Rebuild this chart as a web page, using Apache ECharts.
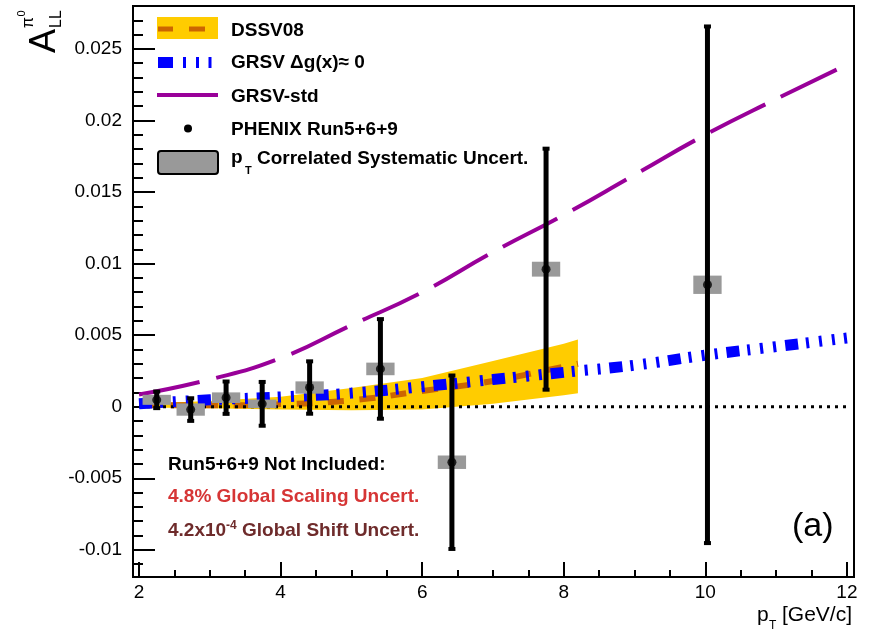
<!DOCTYPE html>
<html><head><meta charset="utf-8">
<script src="https://cdn.jsdelivr.net/npm/echarts@6/dist/echarts.min.js"></script>
<style>html,body{margin:0;padding:0;background:#fff}#c{width:869px;height:633px}</style>
</head><body><div id="c"></div>
<script>
// ---- data ----
const ptX    = [2.25, 2.73, 3.23, 3.74, 4.41, 5.41, 6.42, 7.75, 10.03];
const allVal = [0.00048, -0.0002, 0.00063, 0.0002, 0.00134, 0.00264, -0.00388, 0.00961, 0.00852];
const statErr= [0.00065, 0.00086, 0.0012, 0.0016, 0.0019, 0.00355, 0.00613, 0.00849, 0.01812];
const sysErr = [0.00035, 0.00043, 0.00037, 0.0003, 0.00043, 0.00044, 0.00047, 0.00052, 0.00064];

const theoryX  = [2, 3, 4, 5, 6, 7, 8, 9, 10, 11, 12];
const grsvStd  = [0.00085, 0.0019, 0.0034, 0.0057, 0.0080, 0.0108, 0.0134, 0.0162, 0.0190, 0.0215, 0.0239];
const grsvZero = [0.0002, 0.00048, 0.00068, 0.00095, 0.0014, 0.0019, 0.0024, 0.0029, 0.0036, 0.0042, 0.0048];

const dssvX  = [2, 3, 4, 5, 6, 7, 8, 8.2];
const dssvC  = [0.0001, 0.0001, 0.00018, 0.00045, 0.0011, 0.0018, 0.0028, 0.003];
const dssvHi = [0.0002, 0.0004, 0.0007, 0.0013, 0.002, 0.0032, 0.0044, 0.0047];
const dssvLo = [-0.00005, -0.0001, -0.0002, -0.00025, -0.0002, 0.0002, 0.0008, 0.00094];

const zeroX = [2, 12];
const zeroY = [0, 0];

const xTickLabels = ['2', '4', '6', '8', '10', '12'];
const yTickLabels = ['-0.01', '-0.005', '0', '0.005', '0.01', '0.015', '0.02', '0.025'];

// ---- chart ----
const FONT = '"Liberation Sans", Arial, Helvetica, sans-serif';
const zip = (xs, ys) => xs.map((x, i) => [x, ys[i]]);
const chart = echarts.init(document.getElementById('c'), null, {renderer: 'canvas'});

function yFmt(v) {
  const k = v / 0.005;
  if (Math.abs(k - Math.round(k)) > 1e-6) return '';
  const s = String(parseFloat((Math.round(k) * 0.005).toFixed(3)));
  return yTickLabels.indexOf(s) >= 0 ? s : '';
}
function xFmt(v) {
  if (Math.abs(v - Math.round(v)) > 1e-6) return '';
  const s = String(Math.round(v));
  return xTickLabels.indexOf(s) >= 0 ? s : '';
}

function txt(text, x, y, font, fill, extra) {
  const e = {type: 'text', x: x, y: y, z: 100, silent: true,
    style: {text: text, font: font, fill: fill || '#000', align: 'left', verticalAlign: 'middle'}};
  if (extra) Object.assign(e, extra);
  if (extra && extra.style) Object.assign(e.style, extra.style);
  return e;
}

const boldF = 'bold 19px ' + FONT;

const graphics = [
  // legend
  {type: 'rect', z: 100, silent: true, shape: {x: 157, y: 17, width: 61, height: 22}, style: {fill: '#ffcc00'}},
  {type: 'rect', z: 101, silent: true, shape: {x: 158, y: 26.5, width: 15, height: 5}, style: {fill: '#cc6600'}},
  {type: 'rect', z: 101, silent: true, shape: {x: 189, y: 26.5, width: 16, height: 5}, style: {fill: '#cc6600'}},
  {type: 'rect', z: 100, silent: true, shape: {x: 158, y: 57, width: 15, height: 11}, style: {fill: '#0000ff'}},
  {type: 'rect', z: 100, silent: true, shape: {x: 183, y: 57, width: 3, height: 11}, style: {fill: '#0000ff'}},
  {type: 'rect', z: 100, silent: true, shape: {x: 196, y: 57, width: 3, height: 11}, style: {fill: '#0000ff'}},
  {type: 'rect', z: 100, silent: true, shape: {x: 208.5, y: 57, width: 3, height: 11}, style: {fill: '#0000ff'}},
  {type: 'line', z: 100, silent: true, shape: {x1: 157, y1: 95, x2: 218, y2: 95}, style: {stroke: '#990099', lineWidth: 4}},
  {type: 'circle', z: 100, silent: true, shape: {cx: 188, cy: 128.5, r: 4}, style: {fill: '#000'}},
  {type: 'rect', z: 100, silent: true, shape: {x: 158, y: 151, width: 60, height: 23, r: 3}, style: {fill: '#999999', stroke: '#000', lineWidth: 2}},
  txt('DSSV08', 231, 31, boldF),
  txt('GRSV \u0394g(x)\u2248 0', 231, 63, boldF),
  txt('GRSV-std', 231, 97, boldF),
  txt('PHENIX Run5+6+9', 231, 130, boldF),
  txt('p', 231, 158, boldF),
  txt('T', 245, 171, 'bold 11px ' + FONT),
  txt('Correlated Systematic Uncert.', 257, 159, boldF),
  // notes
  txt('Run5+6+9 Not Included:', 168, 465, boldF),
  txt('4.8% Global Scaling Uncert.', 168, 497, boldF, '#d63535'),
  txt('4.2x10', 168, 531, boldF, '#6e2b2b'),
  txt('-4', 226, 526, 'bold 12px ' + FONT, '#6e2b2b'),
  txt('Global Shift Uncert.', 242, 531, boldF, '#6e2b2b'),
  txt('(a)', 792, 527, '34px ' + FONT, '#000'),
  // x title
  txt('p', 757, 615, '21px ' + FONT),
  txt('T', 769, 626, '12px ' + FONT),
  txt('[GeV/c]', 782, 615, '21px ' + FONT),
  // y title (rotated)
  {type: 'text', x: 45, y: 41, rotation: Math.PI / 2, z: 100, silent: true,
    style: {text: 'A', font: '36px ' + FONT, fill: '#000', align: 'center', verticalAlign: 'middle'}},
  {type: 'text', x: 57, y: 19, rotation: Math.PI / 2, z: 100, silent: true,
    style: {text: 'LL', font: '16px ' + FONT, fill: '#000', align: 'center', verticalAlign: 'middle'}},
  {type: 'text', x: 29, y: 22.5, rotation: Math.PI / 2, z: 100, silent: true,
    style: {text: '\u03c0', font: '16px ' + FONT, fill: '#000', align: 'center', verticalAlign: 'middle'}},
  {type: 'text', x: 22, y: 13.5, rotation: Math.PI / 2, z: 100, silent: true,
    style: {text: '0', font: '11px ' + FONT, fill: '#000', align: 'center', verticalAlign: 'middle'}}
];

const option = {
  animation: false,
  backgroundColor: '#fff',
  grid: {left: 133, right: 15, top: 6, bottom: 56, show: true, borderColor: '#000', borderWidth: 2,
         backgroundColor: 'transparent', containLabel: false, outerBoundsMode: 'none'},
  xAxis: {
    type: 'value', min: 1.915, max: 12.1, splitNumber: 5,
    axisLine: {show: true, onZero: false, lineStyle: {color: '#000', width: 2}},
    axisTick: {show: true, inside: true, length: 15, lineStyle: {color: '#000', width: 2}},
    minorTick: {show: true, splitNumber: 4, length: 7, lineStyle: {color: '#000', width: 2}},
    splitLine: {show: false}, minorSplitLine: {show: false},
    axisLabel: {formatter: xFmt, color: '#000', fontSize: 19, fontFamily: FONT, margin: 6,
                showMinLabel: true, showMaxLabel: true, hideOverlap: false}
  },
  yAxis: {
    type: 'value', min: -0.0119, max: 0.028, splitNumber: 8,
    axisLine: {show: true, onZero: false, lineStyle: {color: '#000', width: 2}},
    axisTick: {show: true, inside: true, length: 22, lineStyle: {color: '#000', width: 2}},
    minorTick: {show: true, splitNumber: 5, length: 10, lineStyle: {color: '#000', width: 2}},
    splitLine: {show: false}, minorSplitLine: {show: false},
    axisLabel: {formatter: yFmt, color: '#000', fontSize: 19, fontFamily: FONT, margin: 11,
                showMinLabel: true, showMaxLabel: true, hideOverlap: false}
  },
  graphic: graphics,
  series: [
    { // DSSV08 uncertainty band
      type: 'custom', z: 1, silent: true, clip: true,
      data: [[dssvX[0], dssvC[0]]],
      renderItem: function (params, api) {
        const pts = [];
        for (let i = 0; i < dssvX.length; i++) pts.push(api.coord([dssvX[i], dssvHi[i]]));
        for (let i = dssvX.length - 1; i >= 0; i--) pts.push(api.coord([dssvX[i], dssvLo[i]]));
        return {type: 'polygon', shape: {points: pts}, style: {fill: '#ffcc00'}};
      }
    },
    { // DSSV08 central
      type: 'line', z: 2, silent: true, showSymbol: false, smooth: true,
      data: zip(dssvX, dssvC),
      lineStyle: {color: '#cc6600', width: 6, type: [16, 15.5], cap: 'butt'}
    },
    { // zero line
      type: 'line', z: 3, silent: true, showSymbol: false,
      data: zip(zeroX, zeroY),
      lineStyle: {color: '#000', width: 3, type: [3, 5], cap: 'butt'}
    },
    { // GRSV dg=0
      type: 'line', z: 4, silent: true, showSymbol: false, smooth: true,
      data: zip(theoryX, grsvZero),
      lineStyle: {color: '#0000ff', width: 11, type: [13, 8, 3, 10, 3, 10, 3, 9], cap: 'butt'}
    },
    { // GRSV-std
      type: 'line', z: 4, silent: true, showSymbol: false, smooth: true,
      data: zip(theoryX, grsvStd),
      lineStyle: {color: '#990099', width: 4, type: [62, 17], cap: 'butt'}
    },
    { // systematic boxes
      type: 'custom', z: 5, silent: true,
      data: ptX.map((x, i) => [x, allVal[i], sysErr[i]]),
      renderItem: function (params, api) {
        const x = api.value(0), y = api.value(1), e = api.value(2);
        const p1 = api.coord([x - 0.2, y + e]);
        const p2 = api.coord([x + 0.2, y - e]);
        return {type: 'rect', shape: {x: p1[0], y: p1[1], width: p2[0] - p1[0], height: p2[1] - p1[1]},
                style: {fill: '#999999'}};
      }
    },
    { // statistical error bars
      type: 'custom', z: 6, silent: true,
      data: ptX.map((x, i) => [x, allVal[i], statErr[i]]),
      renderItem: function (params, api) {
        const x = api.value(0), y = api.value(1), e = api.value(2);
        const top = api.coord([x, y + e]);
        const bot = api.coord([x, y - e]);
        return {type: 'group', children: [
          {type: 'line', shape: {x1: top[0], y1: top[1], x2: bot[0], y2: bot[1]}, style: {stroke: '#000', lineWidth: 5}},
          {type: 'rect', shape: {x: top[0] - 3.5, y: top[1] - 1, width: 7, height: 4}, style: {fill: '#000'}},
          {type: 'rect', shape: {x: bot[0] - 3.5, y: bot[1] - 3, width: 7, height: 4}, style: {fill: '#000'}}
        ]};
      }
    },
    { // data points
      type: 'scatter', z: 7, silent: true, symbol: 'circle', symbolSize: 9,
      itemStyle: {color: '#000'},
      data: zip(ptX, allVal)
    }
  ]
};
chart.setOption(option);
</script>
</body></html>
